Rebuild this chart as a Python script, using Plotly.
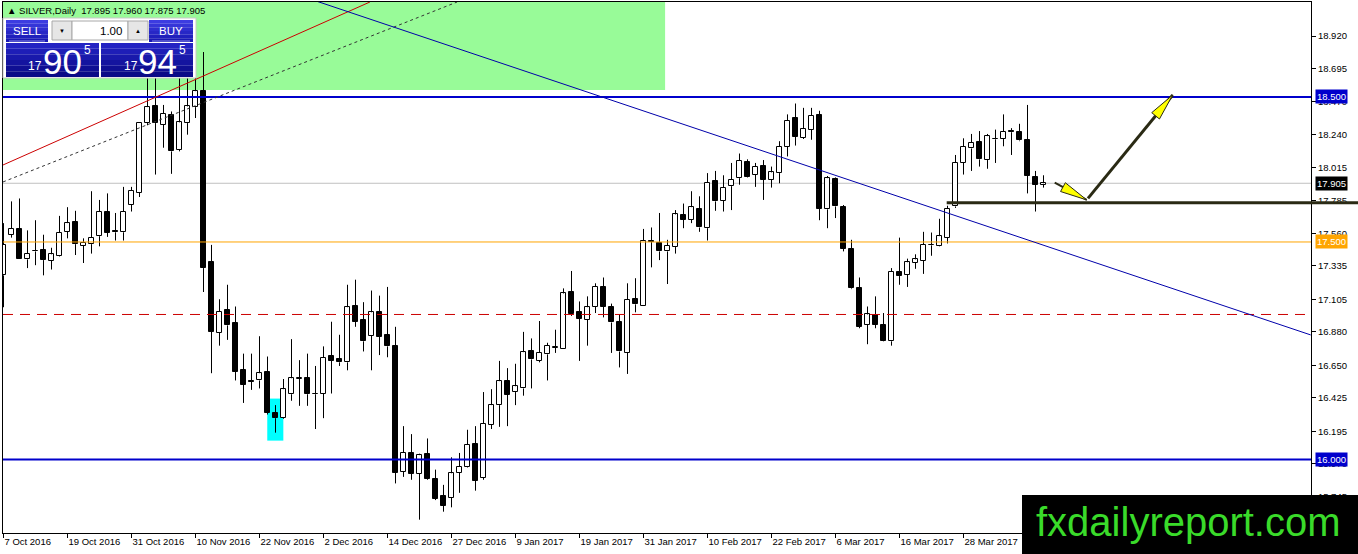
import math
import pandas as pd
import plotly.graph_objects as go

# ---- daily OHLC (SILVER, Daily) ----
opens = [17.27, 17.55, 17.59, 17.38, 17.44, 17.445, 17.37, 17.405, 17.57, 17.635,
         17.475, 17.485, 17.54, 17.71, 17.575, 17.567, 17.755, 17.84, 18.32, 18.44,
         18.31, 18.375, 18.135, 18.32, 18.43, 18.54, 17.365, 16.875, 17.03, 16.94,
         16.615, 16.54, 16.545, 16.60, 16.32, 16.285, 16.45, 16.555, 16.565, 16.455,
         16.455, 16.715, 16.69, 16.67, 17.06, 16.96, 16.855, 17.015, 16.86, 16.785,
         15.915, 16.045, 15.90, 16.04, 15.865, 15.745, 15.735, 15.91, 15.95, 16.105,
         15.875, 16.24, 16.375, 16.54, 16.465, 16.49, 16.75, 16.68, 16.725, 16.77,
         16.76, 17.155, 17.015, 16.965, 17.055, 17.19, 17.05, 16.945, 16.735, 17.105,
         17.06, 17.51, 17.495, 17.435, 17.465, 17.685, 17.655, 17.73, 17.595, 17.92,
         17.785, 17.885, 17.94, 18.055, 17.965, 18.025, 17.93, 17.975, 18.155, 18.355,
         18.22, 18.275, 18.375, 17.725, 17.935, 17.74, 17.45, 17.18, 16.93, 16.995,
         16.93, 16.815, 17.29, 17.275, 17.355, 17.37, 17.482, 17.475, 17.53, 17.745,
         18.045, 18.145, 18.19, 18.065, 18.208, 18.21, 18.266, 18.26, 18.205, 17.95,
         17.895]
highs = [17.63, 17.78, 17.80, 17.58, 17.65, 17.55, 17.46, 17.68, 17.74, 17.715,
         17.525, 17.85, 17.79, 17.835, 17.70, 17.88, 17.88, 18.32, 18.63, 18.63,
         18.445, 18.40, 18.63, 18.63, 18.96, 18.81, 17.48, 17.105, 17.205, 17.055,
         16.73, 16.73, 16.85, 16.71, 16.375, 16.555, 16.83, 16.685, 16.73, 16.645,
         16.78, 16.95, 16.86, 17.205, 17.24, 17.085, 17.165, 17.13, 17.19, 16.915,
         16.23, 16.175, 16.04, 16.145, 15.93, 15.825, 16.015, 16.045, 16.205, 16.23,
         16.465, 16.485, 16.68, 16.63, 16.66, 16.88, 16.835, 16.955, 16.805, 16.895,
         17.18, 17.30, 17.09, 17.125, 17.215, 17.255, 17.075, 17.0, 17.215, 17.25,
         17.59, 17.60, 17.70, 17.515, 17.72, 17.765, 17.85, 17.815, 17.975, 17.99,
         17.96, 18.045, 18.11, 18.07, 18.045, 18.065, 18.02, 18.195, 18.38, 18.455,
         18.425, 18.425, 18.405, 17.955, 17.945, 17.755, 17.515, 17.255, 17.055, 17.125,
         17.01, 17.32, 17.53, 17.385, 17.415, 17.57, 17.565, 17.66, 17.75, 18.10,
         18.215, 18.245, 18.265, 18.245, 18.275, 18.38, 18.285, 18.315, 18.445, 17.99,
         17.96]
lows = [17.05, 17.53, 17.38, 17.32, 17.34, 17.27, 17.31, 17.40, 17.525, 17.41,
        17.355, 17.42, 17.47, 17.535, 17.51, 17.51, 17.71, 17.81, 18.305, 17.965,
        18.15, 17.97, 18.125, 18.24, 18.355, 17.155, 16.595, 16.785, 16.825, 16.545,
        16.39, 16.48, 16.49, 16.31, 16.185, 16.28, 16.405, 16.37, 16.37, 16.21,
        16.285, 16.455, 16.645, 16.615, 16.915, 16.745, 16.615, 16.72, 16.705, 15.835,
        15.88, 15.86, 15.585, 15.86, 15.72, 15.64, 15.67, 15.77, 15.945, 15.785,
        15.86, 16.21, 16.225, 16.23, 16.375, 16.44, 16.49, 16.67, 16.545, 16.735,
        16.76, 16.99, 16.68, 16.785, 17.01, 16.98, 16.735, 16.635, 16.59, 17.015,
        17.06, 17.325, 17.375, 17.21, 17.42, 17.595, 17.63, 17.57, 17.51, 17.715,
        17.71, 17.72, 17.895, 17.945, 17.88, 17.79, 17.875, 17.905, 18.09, 18.165,
        18.21, 18.205, 17.65, 17.595, 17.665, 17.435, 17.175, 16.905, 16.795, 16.905,
        16.815, 16.785, 17.205, 17.19, 17.315, 17.28, 17.405, 17.47, 17.49, 17.735,
        17.965, 17.99, 18.02, 18.005, 18.045, 18.16, 18.10, 18.195, 17.835, 17.71,
        17.875]
closes = [17.48, 17.59, 17.38, 17.42, 17.435, 17.375, 17.415, 17.565, 17.63, 17.485,
          17.495, 17.53, 17.71, 17.565, 17.567, 17.71, 17.855, 18.32, 18.43, 18.32,
          18.385, 18.125, 18.325, 18.435, 18.54, 17.32, 16.88, 17.02, 16.925, 16.605,
          16.515, 16.535, 16.595, 16.32, 16.285, 16.485, 16.56, 16.56, 16.45, 16.45,
          16.70, 16.68, 16.67, 17.05, 16.95, 16.815, 17.015, 16.845, 16.78, 15.91,
          16.045, 15.90, 16.03, 15.865, 15.73, 15.68, 15.905, 15.95, 16.10, 15.855,
          16.245, 16.375, 16.54, 16.445, 16.505, 16.74, 16.69, 16.735, 16.785, 16.775,
          17.145, 17.005, 16.97, 17.05, 17.19, 17.055, 16.945, 16.745, 17.10, 17.07,
          17.51, 17.50, 17.435, 17.475, 17.69, 17.655, 17.74, 17.60, 17.91, 17.78,
          17.875, 17.93, 18.06, 17.95, 18.02, 17.93, 17.98, 18.155, 18.335, 18.225,
          18.28, 18.37, 17.73, 17.94, 17.745, 17.455, 17.18, 16.915, 17.0, 16.93,
          16.82, 17.295, 17.265, 17.36, 17.38, 17.48, 17.477, 17.54, 17.73, 18.045,
          18.155, 18.185, 18.07, 18.23, 18.212, 18.26, 18.257, 18.20, 17.955, 17.895,
          17.905]

holidays = ["2016-12-26", "2017-01-02"]
days = pd.bdate_range("2016-10-07", "2017-05-31", freq="C", holidays=holidays)[:len(closes)]
day_labels = [f"{d.day} {d.strftime('%b %Y')}" for d in days]
idx = list(range(len(closes)))

price_ticks = [15.745, 15.970, 16.195, 16.425, 16.650, 16.880, 17.105, 17.335,
               17.560, 17.785, 18.015, 18.240, 18.470, 18.695, 18.920]

# drawn levels / objects
resistance = 18.500
support = 16.000
pivot = 17.500
dashed_level = 17.000
bid = 17.905
break_level = 17.770
break_start = 117.9
red_trend = [(-0.06, 18.031), (45.8, 19.155)]
dotted_trend = [(-0.06, 17.914), (56.7, 19.155)]
blue_trend = [(38.69, 19.169), (163.4, 16.859)]
green_zone = [(-1.0, 18.548), (82.7, 19.4)]
cyan_zone = [(32.97, 16.13), (34.98, 16.42)]
arrow_short = [(131.4, 17.909), (135.4, 17.79)]
arrow_long = [(135.56, 17.801), (146.15, 18.514)]

# ---- geometry ----
FW, FH = 1358, 554
ML, MR, MT, MB = 3, 47, 2, 21
PW, PH = FW - ML - MR, FH - MT - MB
x_range = [-0.0625, 163.4375]
y_range = [15.493, 19.155]


def px(x):
    return (x - ML) / PW


def py(y):
    return 1 - (y - MT) / PH


FONT = "Liberation Sans, Arial, sans-serif"

bases = [min(o, c) for o, c in zip(opens, closes)]
sizes = [max(abs(c - o), 0.003) for o, c in zip(opens, closes)]
colors = ["white" if c >= o else "black" for o, c in zip(opens, closes)]

wx, wy = [], []
for i, o, h, l, c in zip(idx, opens, highs, lows, closes):
    top, bot = max(o, c), min(o, c)
    wx += [i, i, None, i, i, None]
    wy += [h, top, None, bot, l, None]

fig = go.Figure()
fig.add_trace(go.Bar(x=idx, y=sizes, base=bases, width=0.58,
                     marker=dict(color=colors, line=dict(color="black", width=1)),
                     hoverinfo="skip"))
fig.add_trace(go.Scatter(x=wx, y=wy, mode="lines", line=dict(color="black", width=1),
                         hoverinfo="skip"))

shapes = []
# background objects
shapes.append(dict(type="rect", xref="x", yref="y", layer="below",
                   x0=green_zone[0][0], y0=green_zone[0][1], x1=green_zone[1][0], y1=green_zone[1][1],
                   fillcolor="#98FB98", line=dict(width=0)))
shapes.append(dict(type="rect", xref="x", yref="y", layer="below",
                   x0=cyan_zone[0][0], y0=cyan_zone[0][1], x1=cyan_zone[1][0], y1=cyan_zone[1][1],
                   fillcolor="#00FFFF", line=dict(width=0)))
shapes.append(dict(type="line", xref="paper", yref="y", layer="below", x0=0, x1=1, y0=bid, y1=bid,
                   line=dict(color="#C0C0C0", width=1)))

# levels
for lvl, col, w, dash in [(resistance, "#0000CC", 2, "solid"), (support, "#0000CC", 2, "solid"),
                          (pivot, "#FFA500", 1, "solid"), (dashed_level, "#CC0000", 1, "10px,7px")]:
    shapes.append(dict(type="line", xref="paper", yref="y", x0=0, x1=1, y0=lvl, y1=lvl,
                       line=dict(color=col, width=w, dash=dash)))

# trend lines
for pts, col, dash in [(red_trend, "#CC0000", "solid"), (dotted_trend, "#333333", "dot"),
                       (blue_trend, "#0000AA", "solid")]:
    shapes.append(dict(type="line", xref="x", yref="y", x0=pts[0][0], y0=pts[0][1],
                       x1=pts[1][0], y1=pts[1][1], line=dict(color=col, width=1, dash=dash)))

# breakout line, running over the price scale
shapes.append(dict(type="line", xref="paper", yref="y",
                   x0=(break_start - x_range[0]) / (x_range[1] - x_range[0]), x1=(FW - ML) / PW,
                   y0=break_level, y1=break_level, line=dict(color="#2a2a14", width=3)))


def arrow_head(tail, tip, length=27, half=5):
    sx = PW / (x_range[1] - x_range[0])
    sy = PH / (y_range[1] - y_range[0])
    dx, dy = (tip[0] - tail[0]) * sx, (tip[1] - tail[1]) * sy
    n = math.hypot(dx, dy)
    ux, uy = dx / n, dy / n
    bx, by = -ux * length, -uy * length
    p1 = (tip[0] + (bx - uy * half) / sx, tip[1] + (by + ux * half) / sy)
    p2 = (tip[0] + (bx + uy * half) / sx, tip[1] + (by - ux * half) / sy)
    return f"M{tip[0]},{tip[1]} L{p1[0]},{p1[1]} L{p2[0]},{p2[1]} Z"


for arr, w in [(arrow_short, 2), (arrow_long, 3)]:
    shapes.append(dict(type="line", xref="x", yref="y", x0=arr[0][0], y0=arr[0][1],
                       x1=arr[1][0], y1=arr[1][1], line=dict(color="#2a2a14", width=w)))
    shapes.append(dict(type="path", xref="x", yref="y", path=arrow_head(arr[0], arr[1]),
                       fillcolor="#FFFF00", line=dict(color="#2a2a14", width=1)))


# one-click trading panel
def prect(x0, y0, x1, y1, fill, line_col=None):
    shapes.append(dict(type="rect", xref="paper", yref="paper",
                       x0=px(x0), x1=px(x1), y0=py(y1), y1=py(y0), fillcolor=fill,
                       line=dict(color=line_col or fill, width=1 if line_col else 0)))


def gradient(x0, y0, x1, y1, c_top, c_bot, bands=6):
    for k in range(bands):
        t = k / (bands - 1)
        col = "#%02x%02x%02x" % tuple(int(a + (b - a) * t) for a, b in zip(c_top, c_bot))
        ya = y0 + (y1 - y0) * k / bands
        yb = y0 + (y1 - y0) * (k + 1) / bands
        prect(x0, ya, x1, yb, col)


prect(3, 18, 196, 78, "#FFFFFF", "#C8C8C8")
gradient(6, 20, 48, 42, (60, 60, 225), (25, 25, 180))
gradient(149, 20, 193, 42, (60, 60, 225), (25, 25, 180))
prect(52, 21, 72, 40, "#E6E6E6", "#A8A8A8")
prect(72, 21, 128, 40, "#FFFFFF", "#A8A8A8")
prect(128, 21, 148, 40, "#E6E6E6", "#A8A8A8")
gradient(6, 43, 99, 77, (36, 36, 195), (10, 10, 135))
gradient(101, 43, 193, 77, (36, 36, 195), (10, 10, 135))
shapes.append(dict(type="line", xref="paper", yref="paper", x0=px(9), x1=px(45), y0=py(41), y1=py(41),
                   line=dict(color="#8C8CE6", width=1)))
shapes.append(dict(type="line", xref="paper", yref="paper", x0=px(152), x1=px(190), y0=py(41), y1=py(41),
                   line=dict(color="#8C8CE6", width=1)))

# watermark box
prect(1022, 495, 1362, 558, "#000000")

annotations = []


def ptext(x, y, text, size, color, anchor="center", font=FONT):
    annotations.append(dict(xref="paper", yref="paper", x=px(x), y=py(y), text=text,
                            showarrow=False, xanchor=anchor, yanchor="middle",
                            font=dict(family=font, size=size, color=color)))


ptext(5, 10, "\u25b2 SILVER,Daily  17.895 17.960 17.875 17.905", 9.5, "#000000", "left")
ptext(27, 31, "SELL", 11.5, "white")
ptext(171, 31, "BUY", 11.5, "white")
ptext(124, 31, "1.00", 11.5, "black", "right")
ptext(62, 31, "\u25bc", 6, "black")
ptext(138, 31, "\u25b2", 6, "black")
ptext(35, 66, "17", 12, "white")
ptext(62, 61, "90", 35, "white")
ptext(87, 50, "5", 12, "white")
ptext(131, 66, "17", 12, "white")
ptext(157, 61, "94", 35, "white")
ptext(182, 50, "5", 12, "white")
ptext(1188, 522, "fxdailyreport.com", 40, "#3ADB2A")

# price labels on the scale
for lvl, bg in [(resistance, "#0000CC"), (bid, "#000000"), (pivot, "#FFA500"), (support, "#0000CC")]:
    annotations.append(dict(xref="paper", yref="y", x=1, y=lvl, text=f"{lvl:.3f}", showarrow=False,
                            xanchor="left", yanchor="middle", xshift=4, bgcolor=bg, borderpad=1,
                            font=dict(family=FONT, size=9.5, color="white")))

# date labels: the last one sits under the watermark in the original, so it is left out
date_ticks = idx[:121:8]

fig.update_layout(
    width=FW, height=FH,
    margin=dict(l=ML, r=MR, t=MT, b=MB),
    plot_bgcolor="white", paper_bgcolor="white",
    showlegend=False, bargap=0, hovermode=False,
    shapes=shapes, annotations=annotations,
    font=dict(family=FONT, size=9.5, color="black"),
    xaxis=dict(range=x_range, showgrid=False, zeroline=False, showline=True, mirror=True,
               linecolor="black", linewidth=1, ticks="outside", ticklen=4, tickcolor="black",
               tickvals=date_ticks, ticktext=[day_labels[i] for i in date_ticks],
               ticklabelposition="outside right",
               tickfont=dict(family=FONT, size=9.5), automargin=False),
    yaxis=dict(range=y_range, side="right", showgrid=False, zeroline=False, showline=True,
               mirror=True, linecolor="black", linewidth=1, ticks="outside", ticklen=4,
               tickcolor="black", tickvals=price_ticks, tickformat=".3f",
               tickfont=dict(family=FONT, size=9.5), automargin=False),
)

fig.write_html("out.html", config={"displayModeBar": False},
               post_script="document.body.style.margin='0';document.body.style.overflow='hidden';")
